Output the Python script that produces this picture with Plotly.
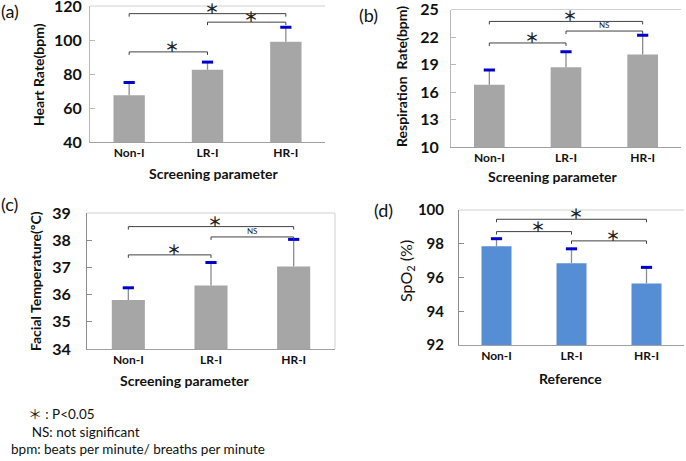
import plotly.graph_objects as go

W, H = 686, 461

categories = ["Non-I", "LR-I", "HR-I"]

# (a) Heart rate
hr_mean = [67.5, 82.5, 99.0]
hr_sd = [7.5, 4.5, 8.5]
# (b) Respiration rate
rr_mean = [16.8, 18.7, 20.1]
rr_sd = [1.6, 1.7, 2.1]
# (c) Facial temperature
ft_mean = [35.8, 36.33, 37.03]
ft_sd = [0.45, 0.85, 1.0]
# (d) SpO2
sp_mean = [97.85, 96.85, 95.65]
sp_sd = [0.45, 0.85, 0.95]

# significance brackets: (from index, to index, level, label)
br_a = [(0, 2, 115.5, "＊"), (1, 2, 110.5, "＊"), (0, 1, 93.0, "＊")]
br_b = [(0, 2, 23.7, "＊"), (1, 2, 22.65, "NS"), (0, 1, 21.35, "＊")]
br_c = [(0, 2, 38.5, "＊"), (1, 2, 38.12, "NS"), (0, 1, 37.46, "＊")]
br_d = [(0, 2, 99.45, "＊"), (0, 1, 98.72, "＊"), (1, 2, 98.17, "＊")]

FONT = "Lato"
STAR_FONT = "Noto Sans CJK JP"
GRAY_BAR = "#A6A6A6"
BLUE_BAR = "#558ED5"
CAP = "#0000CC"

def px_dom_x(a, b):
    return [a / W, b / W]

def px_dom_y(top, bottom):
    return [1 - bottom / H, 1 - top / H]

panels = [
    dict(key="", mean=hr_mean, sd=hr_sd, br=br_a, rng=[40, 120], dt=20,
         dx=px_dom_x(90, 325), dy=px_dom_y(6, 142), color=GRAY_BAR, frame=False,
         tsize=16, stand=4, axc="#B8B8B8"),
    dict(key="2", mean=rr_mean, sd=rr_sd, br=br_b, rng=[10, 25], dt=3,
         dx=px_dom_x(451, 681), dy=px_dom_y(9.5, 147), color=GRAY_BAR, frame=False,
         tsize=16, stand=8, axc="#B8B8B8"),
    dict(key="3", mean=ft_mean, sd=ft_sd, br=br_c, rng=[34, 39], dt=1,
         dx=px_dom_x(87, 335), dy=px_dom_y(213, 349), color=GRAY_BAR, frame=True,
         tsize=16, stand=12, axc="#8C8C8C"),
    dict(key="4", mean=sp_mean, sd=sp_sd, br=br_d, rng=[92, 100], dt=2,
         dx=px_dom_x(459, 684), dy=px_dom_y(210, 345), color=BLUE_BAR, frame=False,
         tsize=15, stand=11, axc="#8C8C8C"),
]

fig = go.Figure()
annotations = []
shapes = []

for p in panels:
    k = p["key"]
    xa, ya = "x" + k, "y" + k
    tops = [m + s for m, s in zip(p["mean"], p["sd"])]
    fig.add_trace(go.Bar(
        x=categories, y=p["mean"], xaxis=xa, yaxis=ya, width=0.4,
        marker=dict(color=p["color"], line=dict(width=0)),
        error_y=dict(type="data", symmetric=False, array=p["sd"],
                     arrayminus=[0] * len(p["sd"]), color="#8C8C8C",
                     thickness=1.3, width=0),
        showlegend=False, hoverinfo="skip"))
    fig.add_trace(go.Scatter(
        x=categories, y=tops, xaxis=xa, yaxis=ya, mode="markers",
        marker=dict(symbol="line-ew", size=8, line=dict(width=3, color=CAP)),
        showlegend=False, hoverinfo="skip"))
    span = p["rng"][1] - p["rng"][0]
    depth = span * 0.022
    for (i, j, lvl, lab) in p["br"]:
        fig.add_trace(go.Scatter(
            x=[categories[i], categories[i], categories[j], categories[j]],
            y=[lvl - depth, lvl, lvl, lvl - depth], xaxis=xa, yaxis=ya,
            mode="lines", line=dict(color="#404040", width=1),
            showlegend=False, hoverinfo="skip"))
        if lab == "NS":
            annotations.append(dict(x=(i + j) / 2, y=lvl, xref=xa, yref=ya,
                                    text=lab, showarrow=False, yanchor="bottom",
                                    yshift=-1,
                                    font=dict(family=FONT, size=8, color="#222")))
        else:
            annotations.append(dict(x=(i + j) / 2, y=lvl, xref=xa, yref=ya,
                                    text=lab, showarrow=False, yanchor="middle",
                                    xshift=4, yshift=6, borderpad=0,
                                    font=dict(family=STAR_FONT, size=14, color="#222",
                                              weight="bold")))
    fig.layout["xaxis" + k] = dict(
        domain=p["dx"], anchor=ya, type="category", range=[-0.5, 2.5],
        automargin=False,
        ticks="", tickfont=dict(family=FONT, size=12, color="#111", weight="bold"),
        showgrid=False, zeroline=False, fixedrange=True,
        showline=True, linecolor="#A0A0A0", linewidth=1, mirror=False)
    fig.layout["yaxis" + k] = dict(
        domain=p["dy"], anchor=xa, range=p["rng"], dtick=p["dt"], tick0=p["rng"][0],
        automargin=False, ticklabeloverflow="allow", ticklabelstandoff=p["stand"],
        ticks="inside", ticklen=5, tickcolor=p["axc"],
        tickfont=dict(family=FONT, size=p["tsize"], color="#111", weight="bold"),
        showgrid=False, zeroline=False, fixedrange=True,
        showline=True, linecolor=p["axc"], linewidth=1, mirror=False)
    shapes.append(dict(type="line", xref=xa + " domain", yref=ya + " domain",
                       x0=0, x1=1, y0=1, y1=1,
                       line=dict(color="#D0D0D0", width=1)))
    if p["frame"]:
        shapes.append(dict(type="line", xref=xa + " domain", yref=ya + " domain",
                           x0=1, x1=1, y0=0, y1=1,
                           line=dict(color="#D0D0D0", width=1)))

def ann(text, x, y, size, bold=False, angle=0, xanchor="center", align="center",
        family=FONT):
    annotations.append(dict(text=text, x=x / W, y=1 - y / H, xref="paper", yref="paper",
                            showarrow=False, textangle=angle, xanchor=xanchor,
                            yanchor="middle", align=align, borderpad=0,
                            font=dict(family=family, size=size, color="#111",
                                      weight="bold" if bold else "normal")))

# panel labels
ann("(a)", 0, 11, 18, xanchor="left")
ann("(b)", 358, 15, 18, xanchor="left")
ann("(c)", 0, 204, 18, xanchor="left")
ann("(d)", 373, 210, 18, xanchor="left")
# y titles
ann("Heart Rate(bpm)", 38, 75, 14, True, -90)
ann("Respiration  Rate(bpm)", 401, 77, 14, True, -90)
ann("Facial Temperature(ºC)", 35, 281, 14, True, -90)
ann("SpO<sub>2</sub> (%)", 406, 271, 16, False, -90)
# x titles
ann("Screening parameter", 214, 173, 14, True)
ann("Screening parameter", 553, 176, 14, True)
ann("Screening parameter", 185, 380, 14, True)
ann("Reference", 570, 378, 14, True)
# footnotes
ann("&nbsp;&nbsp;&nbsp;&nbsp;&nbsp;<span style='font-family:Noto Sans CJK JP'>＊</span> : P&lt;0.05<br>"
    "&nbsp;&nbsp;&nbsp;&nbsp;&nbsp;&nbsp;NS: not significant<br>"
    "bpm: beats per minute/ breaths per minute",
    10, 430, 13.5, xanchor="left", align="left")

fig.update_layout(
    template="none",
    width=W, height=H, margin=dict(l=0, r=0, t=0, b=0, pad=0, autoexpand=False),
    paper_bgcolor="white", plot_bgcolor="white",
    annotations=annotations, shapes=shapes, showlegend=False,
)

fig.write_html(
    "out.html",
    config={"displayModeBar": False, "staticPlot": True},
    post_script=(
        "document.body.style.margin='0';"
        "document.documentElement.style.overflow='hidden';"
        "document.body.style.overflow='hidden';"
        "var d=document.getElementById('{plot_id}');"
        "d.style.position='fixed';d.style.top='0px';d.style.left='0px';"
    ),
)
